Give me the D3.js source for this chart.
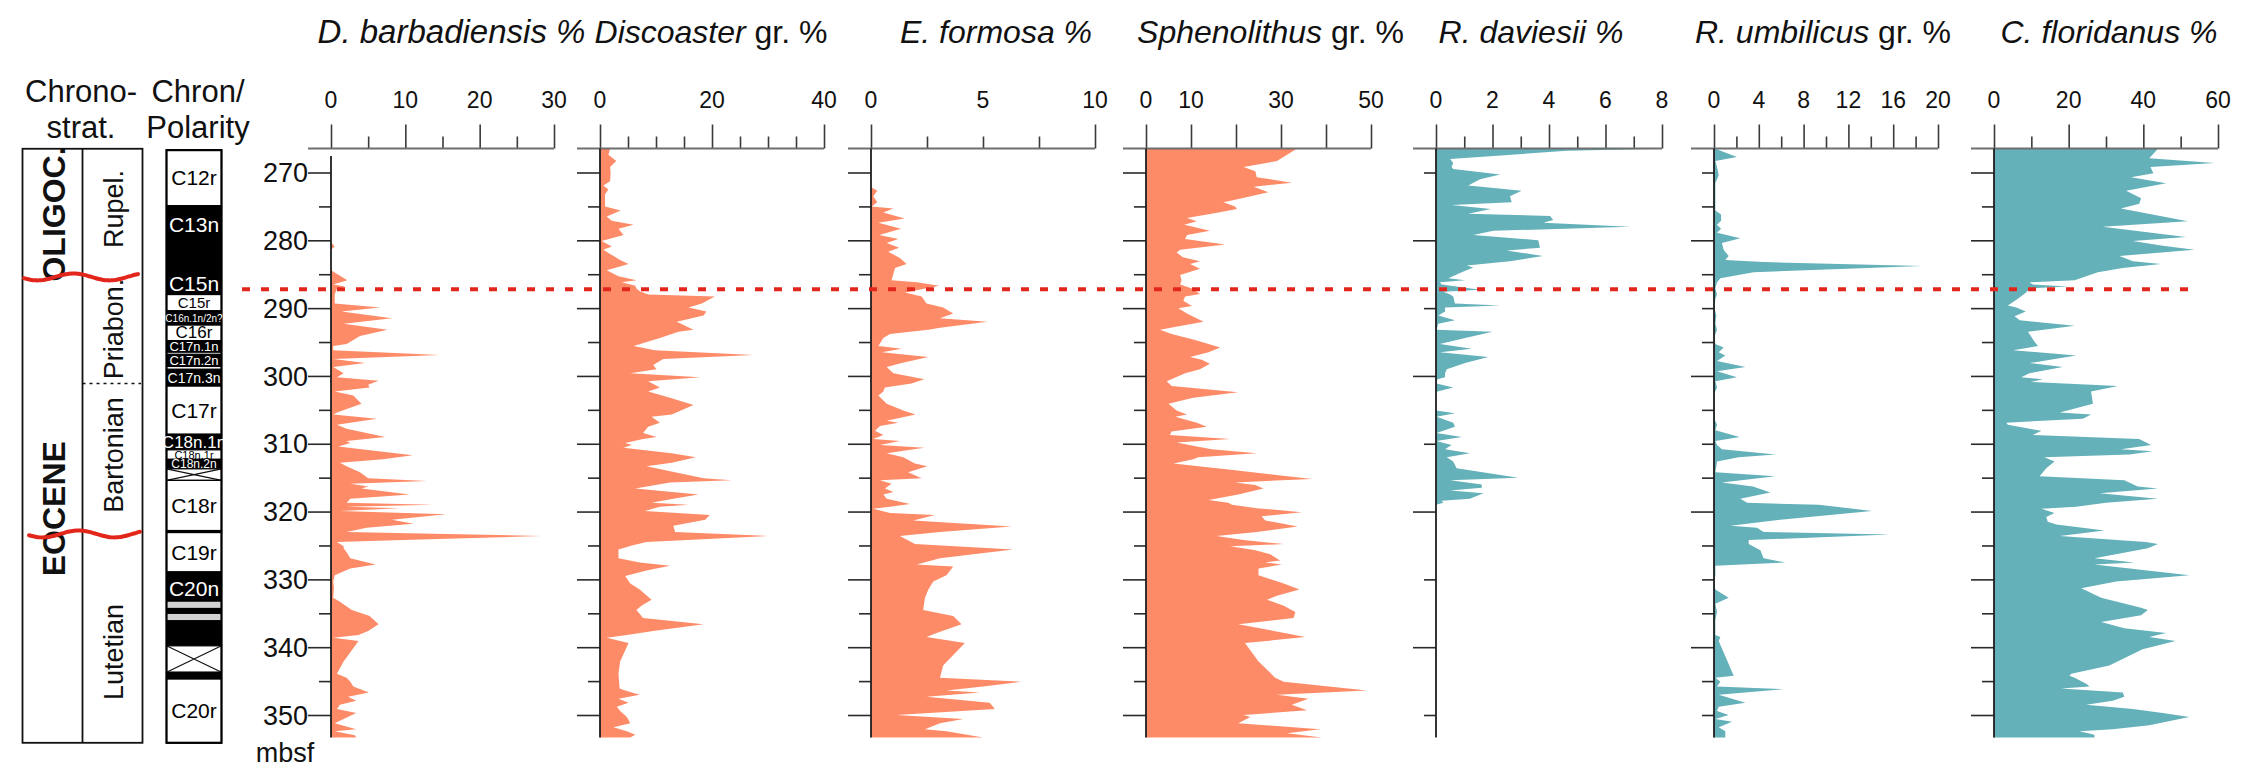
<!DOCTYPE html>
<html>
<head>
<meta charset="utf-8">
<script src="https://cdn.jsdelivr.net/npm/d3@7"></script>
<style>
  body { margin: 0; background: #fff; }
  svg { display: block; }
</style>
</head>
<body>
<div id="chart"></div>
<script>
// ---- data: [depth (mbsf), percent] ----
const dBarbadiensis = [
  [280.3,0],[280.9,0.5],[281.4,0],[284.4,0],[285.9,2.2],[286.5,0.3],[286.8,1.9],[287.1,0.8],[288.0,0.5],[289.3,0.5],
  [289.9,6.6],[290.5,1.4],[291.5,8.2],[292.3,1.7],[293.2,7.6],[294.1,3.9],[295.3,2.1],[295.6,0.3],[296.2,0.3],[296.9,14.6],
  [297.5,0.3],[298.1,4.6],[298.7,0.3],[299.6,1.7],[300.2,0.8],[300.7,6.4],[301.3,5.0],[301.7,5.2],[302.3,0.5],[302.9,3.0],
  [304.1,4.1],[305.4,0.8],[305.7,0.3],[306.3,6.2],[307.2,0.8],[307.8,2.1],[309.0,7.3],[309.6,2.1],[309.9,2.6],[310.4,1.0],
  [310.8,4.1],[311.7,11.0],[312.3,7.0],[312.8,1.2],[313.3,2.1],[314.2,3.9],[315.1,5.0],[315.5,12.9],[315.9,2.6],[316.3,5.0],
  [316.6,4.1],[317.5,10.6],[318.1,2.6],[318.7,2.1],[319.0,13.7],[319.3,2.1],[319.5,9.3],[319.9,1.2],[320.4,15.5],[321.2,8.2],
  [321.8,11.1],[322.4,4.8],[323.0,2.1],[323.6,28.3],[324.2,9.7],[324.5,0.8],[325.1,1.7],[325.4,1.7],[326.0,2.1],[326.9,2.6],
  [327.8,6.0],[328.4,2.6],[329.4,0.5],[330.3,0.3],[331.2,0.4],[332.7,0.3],[333.3,1.2],[334.5,2.8],[335.4,5.2],[336.6,6.4],
  [337.6,5.0],[338.2,3.7],[338.6,0.3],[339.1,3.7],[342.1,1.7],[343.9,0.8],[344.5,2.1],[345.1,2.6],[345.8,3.0],[346.7,5.1],
  [347.3,2.3],[347.9,3.4],[348.5,1.2],[349.1,0.8],[349.7,3.4],[351.2,0.5],[352.1,3.4],[352.4,0.5],[353.0,3.2],[353.3,3.4]
];
const discoaster = [
  [266.5,1.8],[267.4,1.5],[268.3,2.9],[269.2,1.8],[270.1,1.9],[271.3,1.8],[271.9,0.6],[272.5,1.5],[273.2,0.9],[274.4,0.9],
  [275.0,0.9],[275.6,3.7],[276.5,1.2],[277.1,2.1],[277.7,6.0],[278.3,3.3],[279.2,4.2],[280.1,0.3],[280.9,2.1],[281.4,0.6],
  [282.0,1.8],[282.9,3.6],[283.5,5.1],[284.4,1.2],[285.3,3.3],[285.9,6.5],[286.2,3.9],[286.7,6.3],[287.1,6.5],[287.5,7.1],
  [288.0,8.6],[288.3,20.5],[289.3,18.2],[289.9,15.8],[290.5,19.0],[291.1,18.5],[292.0,13.7],[293.2,16.7],[293.5,14.0],[294.4,10.7],
  [295.6,6.0],[296.2,9.8],[296.9,27.4],[297.5,11.3],[298.4,9.5],[299.0,10.1],[299.6,5.4],[300.2,17.9],[300.8,8.6],[301.7,10.7],
  [302.3,8.6],[303.2,12.5],[304.3,16.7],[305.7,12.8],[306.0,9.2],[306.9,10.7],[307.5,8.6],[308.4,7.7],[309.0,10.1],[309.3,7.7],
  [309.9,4.5],[310.2,5.7],[310.6,4.2],[311.4,12.8],[312.0,17.1],[312.8,12.8],[313.3,8.3],[315.1,18.5],[315.4,23.5],[315.7,12.5],
  [316.6,6.3],[317.5,17.6],[318.1,13.1],[318.7,9.2],[319.0,15.8],[319.3,10.7],[319.9,8.0],[320.5,19.6],[321.2,18.8],[322.1,13.1],
  [323.0,13.4],[323.6,30.1],[324.5,8.3],[325.0,5.7],[325.6,3.3],[326.9,3.3],[327.5,7.1],[328.0,12.5],[328.7,8.3],[329.5,4.5],
  [330.6,5.4],[331.5,7.1],[333.0,9.2],[333.9,7.4],[334.5,6.5],[335.7,7.7],[336.6,18.5],[337.6,9.5],[338.2,4.8],[338.6,1.2],
  [339.4,5.1],[342.1,3.6],[343.9,3.3],[346.1,3.5],[346.4,4.5],[347.0,7.1],[347.6,3.3],[348.2,5.1],[348.8,3.0],[349.4,3.6],
  [350.3,4.8],[351.2,5.4],[351.8,2.4],[352.4,4.8],[352.9,6.3],[353.3,5.4]
];
const eFormosa = [
  [272.2,0.03],[272.7,0.28],[273.5,0.1],[274.4,0.28],[275.0,0.03],[275.3,1.0],[275.9,0.55],[276.8,1.5],[277.4,0.33],[278.3,1.34],
  [279.2,0.37],[279.8,1.22],[280.4,0.7],[281.1,1.26],[281.7,0.77],[282.6,1.29],[283.5,1.59],[284.1,1.07],[285.9,0.92],[286.2,2.04],
  [286.7,3.05],[287.7,1.52],[288.3,2.26],[289.3,2.48],[289.9,3.22],[290.8,3.67],[291.5,3.08],[292.0,5.2],[292.9,3.08],[293.2,2.56],
  [293.8,0.85],[294.4,0.55],[295.6,0.33],[296.0,1.37],[296.5,0.48],[297.2,2.56],[298.1,1.37],[298.7,0.7],[299.6,1.0],[300.5,2.38],
  [301.1,1.81],[301.7,0.62],[302.3,0.55],[302.9,0.33],[304.1,0.7],[305.1,1.44],[305.7,1.99],[306.6,0.7],[306.9,1.22],[307.4,0.4],
  [308.1,0.18],[308.7,0.55],[309.3,0.1],[309.6,1.29],[310.2,0.4],[310.6,2.38],[311.4,0.7],[312.0,1.44],[312.9,1.96],[313.3,2.51],
  [314.2,1.66],[315.1,2.26],[315.4,0.4],[315.9,0.92],[316.6,0.62],[317.1,1.0],[317.5,0.55],[318.1,0.7],[318.9,1.74],[319.3,0.85],
  [319.6,0.1],[320.2,0.85],[320.5,2.85],[321.3,1.89],[322.2,6.27],[323.0,3.08],[323.6,1.29],[324.8,1.96],[325.6,6.34],[326.9,3.08],
  [327.8,2.04],[328.1,3.67],[329.4,3.37],[330.3,2.78],[331.5,2.56],[332.7,2.41],[334.5,2.33],[335.4,3.67],[336.6,4.04],[337.9,2.93],
  [338.5,2.48],[339.4,4.19],[342.7,3.22],[344.5,3.08],[345.1,6.72],[345.8,5.0],[346.4,3.37],[346.7,4.86],[347.3,2.48],[348.2,5.3],
  [349.1,5.53],[350.0,1.14],[350.6,4.12],[351.2,3.08],[352.1,2.41],[352.4,3.37],[353.3,5.0]
];
const sphenolithus = [
  [266.5,33.5],[268.3,29.1],[269.2,21.7],[269.8,24.3],[270.7,24.6],[271.5,32.4],[272.1,23.9],[272.9,27.2],[273.8,21.3],[274.4,17.2],
  [275.0,19.8],[275.4,20.2],[275.9,16.1],[276.7,9.1],[277.2,11.3],[277.7,8.5],[278.6,14.2],[279.2,9.1],[279.8,8.7],[280.6,17.6],
  [281.4,7.6],[281.8,6.8],[282.5,8.2],[283.1,12.0],[283.5,9.8],[284.2,12.0],[285.1,7.6],[285.9,7.9],[286.5,7.6],[287.1,10.2],
  [287.9,12.0],[288.3,8.7],[288.9,8.3],[289.7,10.2],[290.0,7.2],[290.8,9.1],[292.0,12.8],[292.6,7.9],[293.2,3.1],[293.8,5.7],
  [294.7,10.9],[295.8,16.5],[296.5,13.9],[297.2,9.8],[297.6,12.4],[298.2,14.2],[299.0,12.0],[299.6,8.7],[300.8,4.6],[301.5,5.7],
  [302.4,20.5],[303.2,10.5],[304.1,5.0],[305.1,6.8],[305.7,9.1],[306.0,6.5],[306.9,11.3],[307.5,13.5],[308.2,5.7],[308.7,5.3],
  [309.3,18.7],[309.8,6.8],[310.4,11.3],[310.8,14.6],[311.4,24.6],[312.0,11.6],[312.3,10.5],[312.9,6.1],[313.9,19.8],[315.2,36.9],
  [315.7,19.8],[316.1,24.3],[316.6,26.1],[317.5,20.5],[318.3,13.9],[318.7,18.3],[319.0,19.1],[319.5,24.6],[320.1,34.6],[320.7,25.7],
  [321.3,26.5],[322.2,33.7],[323.0,24.6],[323.6,15.7],[324.2,21.7],[324.8,30.6],[325.1,18.7],[325.7,24.3],[326.3,27.6],[327.2,29.8],
  [327.5,26.5],[327.8,30.2],[328.4,25.0],[329.4,25.0],[330.6,30.6],[331.5,34.1],[332.4,29.1],[333.0,26.9],[333.9,30.6],[334.8,33.2],
  [335.7,32.8],[336.6,20.5],[338.5,35.4],[339.4,22.0],[342.1,25.0],[344.5,28.7],[345.1,30.6],[346.4,49.1],[347.0,29.1],[347.6,36.1],
  [348.5,32.4],[349.3,35.8],[350.0,21.7],[350.3,23.2],[351.2,20.5],[352.1,38.7],[352.7,31.3],[353.3,39.1]
];
const rDaviesii = [
  [266.5,7.99],[266.8,4.63],[268.0,0.5],[268.6,0.61],[269.2,0.55],[269.5,0.61],[270.3,2.27],[271.0,1.56],[271.9,1.14],[272.7,3.03],
  [273.5,2.62],[274.4,2.68],[274.8,0.55],[275.4,1.94],[276.1,1.14],[276.4,4.04],[277.0,4.15],[277.4,3.8],[278.0,6.87],[278.6,2.03],
  [279.2,1.32],[280.0,3.62],[281.1,3.68],[281.5,2.5],[282.3,3.78],[283.1,2.62],[283.7,1.09],[284.0,1.32],[284.7,0.91],[285.6,0.44],
  [285.9,1.03],[286.2,0.14],[286.5,0.2],[287.3,1.56],[287.6,0.26],[288.0,0.5],[288.3,0.61],[289.3,0.67],[289.6,2.27],[289.9,0.32],
  [290.5,0.32],[291.1,0.08],[291.8,0.67],[292.3,0.08],[293.2,0.02],[293.5,2.0],[294.4,1.03],[295.3,0.14],[296.0,1.26],[296.5,0.14],
  [297.2,1.85],[298.1,1.03],[299.0,0.38],[299.6,0.32],[300.2,0.32],[300.5,0.05],[301.1,0.02],[301.7,0.61],[302.3,0.05],[302.6,0],
  [305.1,0],[305.5,0.67],[306.0,0.02],[306.9,0.61],[307.5,0.67],[308.4,0.02],[309.0,0.91],[309.6,0.02],[310.2,0.55],[310.8,0.32],
  [311.4,1.2],[312.0,0.38],[312.6,0.61],[313.6,0.73],[315.0,2.91],[315.4,0.5],[316.0,1.62],[316.5,1.62],[316.9,0.5],[317.3,1.68],
  [318.1,1.2],[318.4,0.2],[318.7,0.26],[319.0,0],[353.3,0]
];
const rUmbilicus = [
  [266.5,0.12],[267.7,2.05],[268.3,0.12],[269.2,0.27],[270.4,0.42],[271.6,0.12],[275.6,0.12],[276.2,0.63],[277.1,0.63],[277.7,0.27],
  [278.3,0.63],[278.9,0.27],[279.7,2.35],[280.4,0.71],[281.4,0.86],[282.3,1.31],[282.9,1.01],[283.2,4.43],[283.8,18.6],[284.7,3.54],
  [285.6,0.57],[286.2,0.27],[287.1,0.12],[288.0,0.27],[288.6,0.12],[289.9,0.03],[291.1,0.21],[292.3,0.12],[293.2,0.27],[294.1,0.06],
  [295.3,0.12],[295.8,0.86],[296.5,0.42],[297.0,1.01],[297.8,0.27],[298.7,2.8],[299.3,0.27],[300.2,2.05],[300.8,0.12],[301.7,0.27],
  [302.6,0.03],[306.3,0.03],[307.2,0.27],[308.0,0.12],[309.0,2.29],[309.6,0.12],[310.2,0.27],[310.8,0.71],[311.6,5.48],[312.0,2.2],
  [312.6,0.27],[313.3,0.21],[314.2,0.12],[314.8,5.48],[315.7,0.71],[316.3,3.48],[317.2,5.03],[318.1,2.35],[318.7,2.95],[319.0,9.35],
  [319.9,14.1],[321.2,5.92],[322.1,1.46],[322.4,3.84],[323.0,4.43],[323.4,15.7],[324.2,3.1],[324.8,3.1],[325.7,4.14],[326.9,4.43],
  [327.5,6.37],[328.0,0.12],[329.4,0.12],[330.3,0.03],[331.5,0.12],[332.7,1.31],[333.6,0.12],[334.8,0.27],[336.0,0.12],[338.2,0.12],
  [338.5,0.57],[339.1,0.42],[344.2,1.76],[344.5,0.12],[345.1,0.57],[345.8,0.27],[346.2,6.22],[347.0,0.42],[348.2,2.8],[348.8,0.42],
  [349.4,0.27],[350.0,1.31],[350.6,0.12],[351.0,1.61],[351.8,0.42],[352.4,1.01],[353.3,1.01]
];
const cFloridanus = [
  [266.5,43.9],[267.9,41.6],[268.6,59.0],[269.2,41.9],[270.1,42.7],[270.7,36.7],[271.6,46.1],[272.7,35.4],[273.8,39.4],[274.6,38.9],
  [275.3,34.0],[277.2,51.9],[278.0,29.1],[279.5,51.4],[280.1,37.2],[280.8,45.2],[281.4,53.7],[282.3,33.6],[283.1,37.2],[283.5,44.7],
  [284.1,34.5],[284.7,27.8],[285.9,21.6],[286.2,9.5],[286.5,10.4],[286.8,19.8],[287.1,9.5],[287.7,8.6],[288.6,6.4],[289.6,3.7],
  [289.9,6.0],[290.5,8.5],[291.2,5.5],[291.8,6.9],[292.6,21.6],[293.5,9.1],[295.0,10.9],[295.6,11.8],[296.2,5.1],[297.0,22.0],
  [298.1,9.5],[298.7,18.4],[299.6,9.5],[300.2,7.3],[300.5,13.1],[300.9,9.9],[301.5,33.2],[302.3,26.0],[304.1,26.5],[305.4,17.6],
  [305.7,26.0],[306.3,23.8],[306.9,3.3],[307.2,3.7],[308.1,12.7],[308.7,10.4],[309.3,38.9],[310.2,42.1],[310.8,34.0],[311.1,42.5],
  [311.6,36.3],[312.0,13.5],[312.6,16.2],[313.6,14.0],[314.8,12.2],[315.4,34.9],[316.3,38.5],[316.6,43.9],[317.3,28.3],[318.1,43.9],
  [318.7,30.0],[319.3,22.0],[319.6,12.7],[320.2,16.2],[320.8,14.0],[321.5,14.4],[321.9,16.7],[322.8,29.6],[323.6,17.6],[324.5,40.7],
  [324.8,43.9],[325.4,41.2],[326.9,26.9],[327.5,37.6],[327.8,26.9],[329.4,52.3],[330.3,32.7],[331.3,23.4],[332.7,28.7],[334.2,39.4],
  [334.5,41.2],[335.3,39.4],[336.3,28.7],[337.2,34.9],[337.9,46.1],[338.5,41.6],[339.1,48.6],[340.3,39.8],[342.7,30.9],[343.9,20.7],
  [344.2,20.2],[344.5,21.6],[345.4,24.7],[345.8,25.6],[346.1,18.0],[346.7,34.5],[347.3,34.9],[347.9,31.8],[348.5,24.7],[349.1,37.2],
  [349.7,45.2],[350.3,52.3],[351.5,41.6],[352.1,31.8],[352.4,22.9],[352.9,26.9],[353.3,26.9]
];

const series = [dBarbadiensis, discoaster, eFormosa, sphenolithus, rDaviesii, rUmbilicus, cFloridanus];
const titles = [
  [['D. barbadiensis %', true]],
  [['Discoaster', true], [' gr. %', false]],
  [['E. formosa %', true]],
  [['Sphenolithus', true], [' gr. %', false]],
  [['R. daviesii %', true]],
  [['R. umbilicus', true], [' gr. %', false]],
  [['C. floridanus %', true]]
];
const xMax = [30, 40, 10, 50, 8, 20, 60];
const xTickLabels = [[0,10,20,30],[0,20,40],[0,5,10],[0,10,30,50],[0,2,4,6,8],[0,4,8,12,16,20],[0,20,40,60]];
const xMinorStep = [5, 5, 2.5, 10, 1, 2, 10];
const xMajorStep = [10, 20, 10, 10, 2, 4, 20];
const depthStep = [5, 5, 5, 5, 10, 5, 5];
const depthMajorStep = [10, 10, 10, 10, 20, 20, 10];
const depthLabels = [270, 280, 290, 300, 310, 320, 330, 340, 350];

// chronostratigraphy (depth ranges)
const epochs = [['OLIGOC.', 266.5, 285.4], ['EOCENE', 285.4, 354.1]];
const stages = [['Rupel.', 266.5, 285.4], ['Priabon.', 285.4, 301.1], ['Bartonian', 301.1, 323.3], ['Lutetian', 323.3, 354.1]];
const hiatuses = [285.4, 323.3];
const dashedDepth = 287.2;

// magnetostratigraphy: [label, top, base, type]  n = normal, r = reversed, x = no data, g = grey, k = line
const chrons = [
  ['C12r', 266.7, 274.9, 'r'], ['C13n', 274.9, 285.4, 'n'], ['C15n', 285.4, 288.0, 'n'],
  ['C15r', 288.0, 290.4, 'r'], ['C16n.1n/2n?', 290.4, 292.5, 'n'], ['C16r', 292.5, 294.8, 'r'],
  ['C17n.1n', 294.8, 296.5, 'n'], ['C17n.2n', 296.8, 298.6, 'n'], ['C17n.3n', 299.0, 301.5, 'n'],
  ['C17r', 301.5, 308.6, 'r'], ['C18n.1n', 308.6, 310.9, 'n'], ['C18n.1r', 310.9, 312.3, 'r'],
  ['C18n.2n', 312.3, 313.7, 'n'], ['', 313.7, 315.4, 'x'], ['C18r', 315.4, 322.8, 'r'],
  ['', 322.8, 323.1, 'k'], ['C19r', 323.1, 328.9, 'r'], ['C20n', 328.9, 339.8, 'n'],
  ['', 333.3, 334.2, 'g'], ['', 335.1, 336.0, 'g'], ['', 339.8, 343.7, 'x'],
  ['', 343.7, 344.7, 'k'], ['C20r', 344.7, 354.1, 'r']
];

// ---- layout ----
const W = 2241, H = 771;
const TOP = 148.5;
const panelX = [331, 600, 871, 1146, 1436, 1714, 1994];
const panelW = [223, 224, 224, 225, 226, 224, 224];
const titleShift = [9, -1, 13, 12, -18, -3, 3];
const fills = ['#fe8b68', '#fe8b68', '#fe8b68', '#fe8b68', '#64b1b9', '#64b1b9', '#64b1b9'];
const chronLabelSize = { 'C15r': 15, 'C16n.1n/2n?': 10, 'C16r': 17, 'C17n.1n': 13, 'C17n.2n': 13, 'C17n.3n': 14,
  'C18n.1n': 17, 'C18n.1r': 11, 'C18n.2n': 12 };
const chronLabelDepth = { 'C13n': 277.7, 'C15n': 286.4, 'C16r': 293.5, 'C20n': 331.3 };
const RED = '#e3261c';
const FONT = '"Liberation Sans", Arial, Helvetica, sans-serif';

const svg = d3.select('#chart').append('svg')
  .attr('width', W).attr('height', H)
  .style('font-family', FONT);

const y = d3.scaleLinear().domain([270, 350]).range([172.5, 715]);
const yBottom = y(353.3);

// ---- depth panels ----
series.forEach((data, i) => {
  const x0 = panelX[i];
  const x = d3.scaleLinear().domain([0, xMax[i]]).range([x0, x0 + panelW[i]]);
  const g = svg.append('g');

  const area = d3.area()
    .y(d => y(d[0]))
    .x0(x(0))
    .x1(d => x(d[1]));
  g.append('path').datum(data).attr('d', area).attr('fill', fills[i]);

  // top value axis
  const majors = d3.range(0, xMax[i] + 1e-6, xMajorStep[i]);
  const minors = d3.range(0, xMax[i] + 1e-6, xMinorStep[i])
    .filter(v => Math.abs(v / xMajorStep[i] - Math.round(v / xMajorStep[i])) > 1e-6);
  const axMaj = d3.axisTop(x).tickValues(majors).tickSize(24).tickSizeOuter(0).tickFormat('');
  const axMin = d3.axisTop(x).tickValues(minors).tickSize(12).tickSizeOuter(0).tickFormat('');
  [axMaj, axMin].forEach(ax => {
    const a = g.append('g').attr('transform', `translate(0,${TOP})`).call(ax);
    a.select('.domain').remove();
    a.selectAll('line').attr('stroke', '#3a3a3a').attr('stroke-width', 1.6);
  });
  g.append('line')
    .attr('x1', x0 - 23).attr('x2', x(xMax[i])).attr('y1', TOP).attr('y2', TOP)
    .attr('stroke', '#6e6e6e').attr('stroke-width', 2.2);
  g.selectAll('.xl').data(xTickLabels[i]).join('text')
    .attr('x', d => x(d)).attr('y', 108)
    .attr('text-anchor', 'middle').attr('font-size', 23).attr('fill', '#111')
    .text(d => d);

  // depth axis
  const dTicks = d3.range(270, 351, depthStep[i]);
  const dMaj = dTicks.filter(v => v % depthMajorStep[i] === 0);
  const dMin = dTicks.filter(v => v % depthMajorStep[i] !== 0);
  const ayMaj = d3.axisLeft(y).tickValues(dMaj).tickSize(23).tickSizeOuter(0).tickFormat('');
  const ayMin = d3.axisLeft(y).tickValues(dMin).tickSize(12).tickSizeOuter(0).tickFormat('');
  [ayMaj, ayMin].forEach(ax => {
    const a = g.append('g').attr('transform', `translate(${x0},0)`).call(ax);
    a.select('.domain').remove();
    a.selectAll('line').attr('stroke', '#2a2a2a').attr('stroke-width', 1.6);
  });
  g.append('line')
    .attr('x1', x0).attr('x2', x0).attr('y1', i === 0 ? 156 : TOP).attr('y2', yBottom)
    .attr('stroke', '#1e1e1e').attr('stroke-width', 1.8);

  if (i === 0) {
    g.selectAll('.yl').data(depthLabels).join('text')
      .attr('x', x0 - 23).attr('y', d => y(d)).attr('dy', '0.36em')
      .attr('text-anchor', 'end').attr('font-size', 27).attr('fill', '#111')
      .text(d => d);
    g.append('text').attr('x', 285).attr('y', 762)
      .attr('text-anchor', 'middle').attr('font-size', 27).attr('fill', '#111').text('mbsf');
  }

  // title
  const t = g.append('text')
    .attr('x', x0 + panelW[i] / 2 + titleShift[i]).attr('y', 43)
    .attr('text-anchor', 'middle').attr('font-size', i === 0 ? 33 : 32).attr('fill', '#111');
  titles[i].forEach(([s, it]) => {
    t.append('tspan').attr('font-style', it ? 'italic' : 'normal').text(s);
  });
});

// ---- chronostratigraphy column ----
const cs = svg.append('g');
cs.append('text').attr('x', 81).attr('y', 102).attr('text-anchor', 'middle').attr('font-size', 31).attr('fill', '#111').text('Chrono-');
cs.append('text').attr('x', 81).attr('y', 138).attr('text-anchor', 'middle').attr('font-size', 31).attr('fill', '#111').text('strat.');
cs.append('text').attr('x', 198).attr('y', 102).attr('text-anchor', 'middle').attr('font-size', 31).attr('fill', '#111').text('Chron/');
cs.append('text').attr('x', 198).attr('y', 138).attr('text-anchor', 'middle').attr('font-size', 31).attr('fill', '#111').text('Polarity');

const csTop = y(266.5), csBot = y(354.1);
cs.append('rect').attr('x', 22.5).attr('y', csTop).attr('width', 120).attr('height', csBot - csTop)
  .attr('fill', 'none').attr('stroke', '#111').attr('stroke-width', 1.8);
cs.append('line').attr('x1', 82.5).attr('x2', 82.5).attr('y1', csTop).attr('y2', csBot)
  .attr('stroke', '#111').attr('stroke-width', 1.8);
cs.append('line').attr('x1', 82.5).attr('x2', 141).attr('y1', y(301.1)).attr('y2', y(301.1))
  .attr('stroke', '#111').attr('stroke-width', 1.5).attr('stroke-dasharray', '3,4');

const epochCenter = { 'OLIGOC.': 214, 'EOCENE': 508.7 };
epochs.forEach(([name]) => {
  cs.append('text')
    .attr('transform', `translate(53,${epochCenter[name]}) rotate(-90)`)
    .attr('text-anchor', 'middle').attr('dy', '0.36em')
    .attr('font-size', 32).attr('font-weight', 'bold').attr('fill', '#111').text(name);
});
const stageCenter = { 'Rupel.': 209, 'Priabon.': 329, 'Bartonian': 455, 'Lutetian': 652 };
stages.forEach(([name]) => {
  cs.append('text')
    .attr('transform', `translate(113,${stageCenter[name]}) rotate(-90)`)
    .attr('text-anchor', 'middle').attr('dy', '0.36em')
    .attr('font-size', 27).attr('fill', '#111').text(name);
});

// ---- polarity column ----
const PX = 166.5, PW = 55;
const pol = svg.append('g');
chrons.forEach(([name, top, base, type]) => {
  const y1 = y(top), y2 = y(base);
  const fill = type === 'n' || type === 'k' ? '#000' : type === 'g' ? '#d2d2d2' : '#fff';
  pol.append('rect').attr('x', PX).attr('y', y1).attr('width', PW).attr('height', y2 - y1)
    .attr('fill', fill).attr('stroke', type === 'g' ? 'none' : '#000').attr('stroke-width', 1.2);
  if (type === 'x') {
    pol.append('path')
      .attr('d', `M${PX},${y1}L${PX + PW},${y2}M${PX},${y2}L${PX + PW},${y1}`)
      .attr('stroke', '#111').attr('stroke-width', 1.2).attr('fill', 'none');
  }
});
pol.append('rect').attr('x', PX).attr('y', y(266.7)).attr('width', PW).attr('height', y(354.1) - y(266.7))
  .attr('fill', 'none').attr('stroke', '#000').attr('stroke-width', 2.2);
chrons.filter(c => c[0]).forEach(([name, top, base, type]) => {
  const d = chronLabelDepth[name] !== undefined ? chronLabelDepth[name] : (top + base) / 2;
  pol.append('text')
    .attr('x', PX + PW / 2).attr('y', y(d)).attr('dy', '0.36em')
    .attr('text-anchor', 'middle').attr('font-size', chronLabelSize[name] || 21)
    .attr('fill', type === 'n' ? '#fff' : '#000').text(name);
});

// ---- red markers ----
const wave = d3.line().curve(d3.curveBasis);
hiatuses.forEach((d, k) => {
  const x1 = k === 0 ? 24 : 29, x2 = k === 0 ? 138 : 141;
  const pts = d3.range(x1, x2 + 0.1, 3).map(xx => [xx, y(d) + 3.5 * Math.sin((xx - x1) / 72 * 2 * Math.PI + 0.4)]);
  svg.append('path').attr('d', wave(pts)).attr('fill', 'none')
    .attr('stroke', RED).attr('stroke-width', 4).attr('stroke-linecap', 'round');
});
svg.append('line')
  .attr('x1', 242).attr('x2', 2196).attr('y1', y(dashedDepth)).attr('y2', y(dashedDepth))
  .attr('stroke', RED).attr('stroke-width', 4).attr('stroke-dasharray', '8,11');
</script>
</body>
</html>
